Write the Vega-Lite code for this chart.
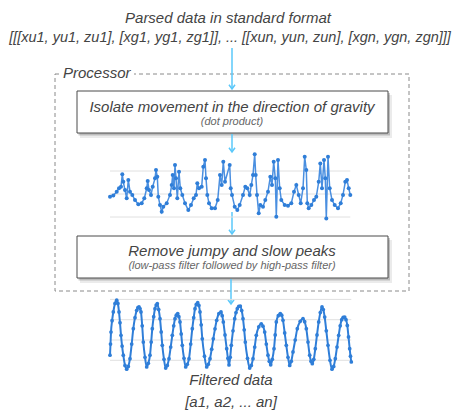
{
  "$schema": "https://vega.github.io/schema/vega-lite/v6.json",
  "width": 455,
  "height": 411,
  "padding": 0,
  "autosize": {"type": "none"},
  "background": "#ffffff",
  "config": {"view": {"stroke": null}},
  "datasets": {
    "titles": [
      {"x": 228, "y": 18, "t": "Parsed data in standard format"},
      {"x": 232, "y": 107, "t": "Isolate movement in the direction of gravity"},
      {"x": 232, "y": 251, "t": "Remove jumpy and slow peaks"},
      {"x": 231, "y": 380, "t": "Filtered data"},
      {"x": 231, "y": 402, "t": "[a1, a2, ... an]"}
    ],
    "formatline": [
      {"x": 230, "y": 38, "t": "[[[xu1, yu1, zu1], [xg1, yg1, zg1]], ... [[xun, yun, zun], [xgn, ygn, zgn]]]"}
    ],
    "subs": [
      {"x": 232, "y": 122, "t": "(dot product)"},
      {"x": 232, "y": 266, "t": "(low-pass filter followed by high-pass filter)"}
    ],
    "boxes": [
      {"x": 77, "x2": 388, "y": 91, "y2": 133},
      {"x": 77, "x2": 388, "y": 236, "y2": 278}
    ],
    "frame": [{"x": 55, "x2": 409, "y": 74, "y2": 291}],
    "arrows": [
      {"x": 232, "y": 48, "y2": 89},
      {"x": 232, "y": 134, "y2": 152},
      {"x": 232, "y": 212, "y2": 234},
      {"x": 231, "y": 279, "y2": 304}
    ],
    "raw": [
      {"t": 0, "v": -0.12}, {"t": 3.3, "v": -0.07}, {"t": 6.7, "v": 0.10}, {"t": 9, "v": 0.25}, {"t": 11, "v": 0.32},
      {"t": 12.3, "v": 0.86}, {"t": 13.3, "v": 0.53}, {"t": 15, "v": 0.17}, {"t": 16.7, "v": -0.19}, {"t": 18.3, "v": 0.61},
      {"t": 20, "v": 0.10}, {"t": 22.3, "v": -0.04}, {"t": 25, "v": -0.26}, {"t": 28.3, "v": -0.45}, {"t": 31.7, "v": -0.40},
      {"t": 34.3, "v": -0.19}, {"t": 36.7, "v": 0.25}, {"t": 37.7, "v": 0.57}, {"t": 39, "v": 0.17}, {"t": 41, "v": -0.04},
      {"t": 42.7, "v": 0.32}, {"t": 45, "v": 0.68}, {"t": 46, "v": 1.04}, {"t": 47.3, "v": 0.75}, {"t": 48.3, "v": -0.12},
      {"t": 50, "v": -0.48}, {"t": 51.7, "v": -0.77}, {"t": 53.3, "v": -0.55}, {"t": 56.7, "v": -0.40}, {"t": 60, "v": -0.04},
      {"t": 61.7, "v": 0.39}, {"t": 62.7, "v": 0.83}, {"t": 64, "v": 0.25}, {"t": 65, "v": 1.26}, {"t": 66, "v": 0.68},
      {"t": 67.3, "v": -0.19}, {"t": 69, "v": 0.97}, {"t": 70.3, "v": 0.25}, {"t": 72.3, "v": -0.04}, {"t": 75, "v": -0.40},
      {"t": 78.3, "v": -0.70}, {"t": 81, "v": -0.48}, {"t": 83.7, "v": -0.19}, {"t": 86, "v": -0.04}, {"t": 87.3, "v": 0.47},
      {"t": 89, "v": 0.25}, {"t": 91.7, "v": 0.32}, {"t": 93.3, "v": 1.19}, {"t": 95, "v": 1.48}, {"t": 96, "v": 0.68},
      {"t": 97.3, "v": -0.04}, {"t": 99, "v": -0.40}, {"t": 101.7, "v": -0.62}, {"t": 105, "v": -0.62}, {"t": 107.7, "v": -0.26},
      {"t": 110, "v": 0.83}, {"t": 111.7, "v": 0.39}, {"t": 113.3, "v": 1.40}, {"t": 115, "v": 0.53}, {"t": 119.7, "v": 1.26},
      {"t": 120.7, "v": 0.25}, {"t": 122, "v": -0.04}, {"t": 124.7, "v": -0.55}, {"t": 127.3, "v": -0.70}, {"t": 129.7, "v": -0.48},
      {"t": 133, "v": -0.04}, {"t": 135.3, "v": 0.32}, {"t": 137.3, "v": 0.25}, {"t": 139.7, "v": -0.04}, {"t": 141.3, "v": 0.39},
      {"t": 143, "v": 0.83}, {"t": 144.7, "v": 1.73}, {"t": 145.7, "v": 0.83}, {"t": 147, "v": -0.04}, {"t": 148.7, "v": -0.84},
      {"t": 150.3, "v": -0.48}, {"t": 153, "v": -0.55}, {"t": 155.3, "v": -0.26}, {"t": 158, "v": 0.10}, {"t": 160.3, "v": 0.75},
      {"t": 162, "v": 0.39}, {"t": 163.7, "v": 1.40}, {"t": 165.3, "v": 0.68}, {"t": 166.3, "v": -0.99}, {"t": 168, "v": 1.48},
      {"t": 169.7, "v": 0.25}, {"t": 171.3, "v": -0.26}, {"t": 174.7, "v": -0.48}, {"t": 178, "v": -0.51}, {"t": 181.3, "v": -0.40},
      {"t": 184, "v": 0.10}, {"t": 186.3, "v": 0.39}, {"t": 188.7, "v": -0.04}, {"t": 190.7, "v": -0.40}, {"t": 193, "v": 0.25},
      {"t": 194.7, "v": 1.62}, {"t": 196.3, "v": 1.04}, {"t": 197.3, "v": -0.40}, {"t": 198.7, "v": -0.62}, {"t": 201.3, "v": -0.48},
      {"t": 204, "v": -0.26}, {"t": 206.3, "v": -0.12}, {"t": 208.7, "v": 0.53}, {"t": 210.3, "v": 1.33}, {"t": 212, "v": 0.25},
      {"t": 214, "v": 1.48}, {"t": 215.3, "v": 0.68}, {"t": 216.3, "v": -1.06}, {"t": 218, "v": 1.62}, {"t": 219.7, "v": 0.25},
      {"t": 222, "v": -0.26}, {"t": 224.7, "v": -0.48}, {"t": 228, "v": -0.62}, {"t": 230.7, "v": -0.40}, {"t": 233, "v": -0.04},
      {"t": 235.3, "v": 0.53}, {"t": 237, "v": 0.61}, {"t": 238.7, "v": 0.25}, {"t": 240.3, "v": -0.04}
    ],
    "filtered": [
      {"t": 0, "v": -0.75}, {"t": 0.5, "v": -0.2}, {"t": 1, "v": 0.39}, {"t": 2.1, "v": 0.95}, {"t": 3.3, "v": 1.38},
      {"t": 5, "v": 1.8}, {"t": 6.7, "v": 1.96}, {"t": 7.9, "v": 1.8}, {"t": 9, "v": 1.38}, {"t": 10, "v": 0.85},
      {"t": 11, "v": 0.23}, {"t": 12.1, "v": -0.3}, {"t": 13.3, "v": -0.75}, {"t": 15, "v": -1.25}, {"t": 16.7, "v": -1.44},
      {"t": 18.3, "v": -1.3}, {"t": 20, "v": -0.92}, {"t": 21.7, "v": -0.2}, {"t": 23.3, "v": 0.56}, {"t": 25, "v": 1.1},
      {"t": 26.7, "v": 1.46}, {"t": 27.9, "v": 1.6}, {"t": 29, "v": 1.63}, {"t": 30, "v": 1.55}, {"t": 31, "v": 1.38},
      {"t": 32.2, "v": 0.7}, {"t": 33.3, "v": -0.10}, {"t": 35, "v": -0.85}, {"t": 36.7, "v": -1.33}, {"t": 38.3, "v": -1.15},
      {"t": 40, "v": -0.75}, {"t": 41.2, "v": -0.1}, {"t": 42.3, "v": 0.56}, {"t": 43.7, "v": 1.15}, {"t": 45, "v": 1.54},
      {"t": 46.2, "v": 1.72}, {"t": 47.3, "v": 1.79}, {"t": 48.7, "v": 1.5}, {"t": 50, "v": 1.05}, {"t": 51.2, "v": 0.4},
      {"t": 52.3, "v": -0.26}, {"t": 54, "v": -0.95}, {"t": 55.7, "v": -1.38}, {"t": 57.3, "v": -1.25}, {"t": 59, "v": -0.92},
      {"t": 60.7, "v": -0.35}, {"t": 62.3, "v": 0.23}, {"t": 63.7, "v": 0.7}, {"t": 65, "v": 1.05}, {"t": 66.3, "v": 1.22},
      {"t": 67.7, "v": 1.30}, {"t": 68.9, "v": 1.15}, {"t": 70, "v": 0.89}, {"t": 71.2, "v": 0.3}, {"t": 72.3, "v": -0.26},
      {"t": 74, "v": -0.9}, {"t": 75.7, "v": -1.33}, {"t": 77.3, "v": -1.2}, {"t": 79, "v": -0.92}, {"t": 80.7, "v": -0.2},
      {"t": 82.3, "v": 0.56}, {"t": 83.7, "v": 1.1}, {"t": 85, "v": 1.54}, {"t": 86.3, "v": 1.75}, {"t": 87.7, "v": 1.84},
      {"t": 88.9, "v": 1.7}, {"t": 90, "v": 1.38}, {"t": 91.2, "v": 0.75}, {"t": 92.3, "v": 0.06}, {"t": 94.5, "v": -0.8},
      {"t": 96.7, "v": -1.33}, {"t": 98.3, "v": -1.2}, {"t": 100, "v": -0.92}, {"t": 101.7, "v": -0.45}, {"t": 103.3, "v": 0.06},
      {"t": 105, "v": 0.55}, {"t": 106.7, "v": 0.97}, {"t": 108.9, "v": 1.3}, {"t": 111, "v": 1.38}, {"t": 112.2, "v": 1.2},
      {"t": 113.3, "v": 0.89}, {"t": 115, "v": 0.25}, {"t": 116.7, "v": -0.43}, {"t": 117.9, "v": -0.9}, {"t": 119, "v": -1.23},
      {"t": 120.2, "v": -0.85}, {"t": 121.3, "v": -0.26}, {"t": 123, "v": 0.45}, {"t": 124.7, "v": 1.05}, {"t": 126, "v": 1.35},
      {"t": 127.3, "v": 1.54}, {"t": 128.8, "v": 1.66}, {"t": 130.3, "v": 1.67}, {"t": 131.7, "v": 1.45}, {"t": 133, "v": 1.05},
      {"t": 134.2, "v": 0.5}, {"t": 135.3, "v": -0.10}, {"t": 137.5, "v": -0.9}, {"t": 139.7, "v": -1.38}, {"t": 141.3, "v": -1.25},
      {"t": 143, "v": -0.92}, {"t": 144.7, "v": -0.35}, {"t": 146.3, "v": 0.23}, {"t": 148.8, "v": 0.65}, {"t": 151.3, "v": 0.80},
      {"t": 153, "v": 0.68}, {"t": 154.7, "v": 0.39}, {"t": 156.3, "v": -0.2}, {"t": 158, "v": -0.75}, {"t": 159.3, "v": -1.05},
      {"t": 160.7, "v": -1.22}, {"t": 162.3, "v": -0.95}, {"t": 164, "v": -0.43}, {"t": 165.2, "v": 0.25}, {"t": 166.3, "v": 0.89},
      {"t": 168.3, "v": 1.2}, {"t": 170.3, "v": 1.30}, {"t": 171.7, "v": 1.22}, {"t": 173, "v": 0.97}, {"t": 174.7, "v": 0.35},
      {"t": 176.3, "v": -0.26}, {"t": 178, "v": -0.85}, {"t": 179.7, "v": -1.25}, {"t": 181.3, "v": -1.05}, {"t": 183, "v": -0.59},
      {"t": 185.2, "v": 0.0}, {"t": 187.3, "v": 0.56}, {"t": 190.2, "v": 0.92}, {"t": 193, "v": 1.05}, {"t": 194.7, "v": 0.9},
      {"t": 196.3, "v": 0.56}, {"t": 198, "v": -0.1}, {"t": 199.7, "v": -0.75}, {"t": 201, "v": -1.05}, {"t": 202.3, "v": -1.17},
      {"t": 203.8, "v": -0.95}, {"t": 205.3, "v": -0.43}, {"t": 207, "v": 0.25}, {"t": 208.7, "v": 0.89}, {"t": 210.3, "v": 1.35},
      {"t": 212, "v": 1.63}, {"t": 213.3, "v": 1.5}, {"t": 214.7, "v": 1.13}, {"t": 216.3, "v": 0.45}, {"t": 218, "v": -0.26},
      {"t": 220, "v": -1.0}, {"t": 222, "v": -1.44}, {"t": 223.7, "v": -1.3}, {"t": 225.3, "v": -0.92}, {"t": 227, "v": -0.35},
      {"t": 228.7, "v": 0.23}, {"t": 230.2, "v": 0.7}, {"t": 231.7, "v": 1.0}, {"t": 233.2, "v": 1.12}, {"t": 234.7, "v": 1.13},
      {"t": 236, "v": 1.0}, {"t": 237.3, "v": 0.72}, {"t": 238.5, "v": 0.15}, {"t": 239.7, "v": -0.43}, {"t": 240.5, "v": -0.8},
      {"t": 241.3, "v": -1.08}
    ]
  },
  "layer": [
    {
      "layer": [
        {
          "data": {"name": "frame"},
          "mark": {"type": "rect", "fill": null, "stroke": "#8a8a8a", "strokeWidth": 1, "strokeDash": [4, 3]},
          "encoding": {
            "x": {"field": "x", "type": "quantitative", "scale": {"domain": [0, 455], "nice": false, "zero": false}, "axis": null},
            "x2": {"field": "x2"},
            "y": {"field": "y", "type": "quantitative", "scale": {"domain": [0, 411], "reverse": true, "nice": false, "zero": false}, "axis": null},
            "y2": {"field": "y2"}
          }
        },
        {
          "data": {"values": [{"x": 61, "y": 73, "t": "Processor"}]},
          "layer": [
            {
              "mark": {"type": "rect", "fill": "#ffffff", "width": 74, "height": 16, "xOffset": 36},
              "encoding": {
                "x": {"field": "x", "type": "quantitative"},
                "y": {"field": "y", "type": "quantitative"}
              }
            },
            {
              "mark": {"type": "text", "align": "left", "baseline": "middle", "font": "Liberation Sans", "fontStyle": "italic", "fontSize": 15, "color": "#444444", "dx": 2},
              "encoding": {
                "x": {"field": "x", "type": "quantitative"},
                "y": {"field": "y", "type": "quantitative"},
                "text": {"field": "t"}
              }
            }
          ]
        },
        {
          "data": {"name": "boxes"},
          "mark": {"type": "rect", "fill": "#000000", "opacity": 0.08, "xOffset": 3, "x2Offset": 4, "yOffset": 4, "y2Offset": 5},
          "encoding": {
            "x": {"field": "x", "type": "quantitative"}, "x2": {"field": "x2"},
            "y": {"field": "y", "type": "quantitative"}, "y2": {"field": "y2"}
          }
        },
        {
          "data": {"name": "boxes"},
          "mark": {"type": "rect", "fill": "#000000", "opacity": 0.2, "xOffset": 1.5, "x2Offset": 2, "yOffset": 2, "y2Offset": 2.5},
          "encoding": {
            "x": {"field": "x", "type": "quantitative"}, "x2": {"field": "x2"},
            "y": {"field": "y", "type": "quantitative"}, "y2": {"field": "y2"}
          }
        },
        {
          "data": {"name": "boxes"},
          "mark": {"type": "rect", "fill": "#ffffff", "stroke": "#4a4a4a", "strokeWidth": 1},
          "encoding": {
            "x": {"field": "x", "type": "quantitative"}, "x2": {"field": "x2"},
            "y": {"field": "y", "type": "quantitative"}, "y2": {"field": "y2"}
          }
        },
        {
          "data": {"name": "arrows"},
          "mark": {"type": "rule", "color": "#5ac8fa", "strokeWidth": 1.5},
          "encoding": {
            "x": {"field": "x", "type": "quantitative"},
            "y": {"field": "y", "type": "quantitative"}, "y2": {"field": "y2"}
          }
        },
        {
          "data": {"name": "arrows"},
          "mark": {"type": "point", "shape": "M-1,-1.4L0,0L1,-1.4", "filled": false, "stroke": "#5ac8fa", "strokeWidth": 1.5, "size": 36, "opacity": 1},
          "encoding": {
            "x": {"field": "x", "type": "quantitative"},
            "y": {"field": "y2", "type": "quantitative"}
          }
        },
        {
          "data": {"name": "titles"},
          "mark": {"type": "text", "align": "center", "baseline": "middle", "font": "Liberation Sans", "fontStyle": "italic", "fontSize": 15, "color": "#444444"},
          "encoding": {
            "x": {"field": "x", "type": "quantitative"},
            "y": {"field": "y", "type": "quantitative"},
            "text": {"field": "t"}
          }
        },
        {
          "data": {"name": "formatline"},
          "mark": {"type": "text", "align": "center", "baseline": "middle", "font": "Liberation Sans", "fontStyle": "italic", "fontSize": 14.5, "color": "#444444"},
          "encoding": {
            "x": {"field": "x", "type": "quantitative"},
            "y": {"field": "y", "type": "quantitative"},
            "text": {"field": "t"}
          }
        },
        {
          "data": {"name": "subs"},
          "mark": {"type": "text", "align": "center", "baseline": "middle", "font": "Liberation Sans", "fontStyle": "italic", "fontSize": 11, "color": "#666666"},
          "encoding": {
            "x": {"field": "x", "type": "quantitative"},
            "y": {"field": "y", "type": "quantitative"},
            "text": {"field": "t"}
          }
        }
      ]
    },
    {
      "layer": [
        {
          "data": {"values": [{"g": -1}, {"g": 0}, {"g": 1}]},
          "mark": {"type": "rule", "color": "#e0e0e0", "strokeWidth": 1},
          "encoding": {
            "x": {"datum": 0, "type": "quantitative", "scale": {"domain": [0, 240.3], "range": [110, 350.3], "nice": false, "zero": false}, "axis": null},
            "x2": {"datum": 240.3},
            "y": {"field": "g", "type": "quantitative", "scale": {"domain": [-1, 1], "range": [217, 171], "nice": false, "zero": false}, "axis": null}
          }
        },
        {
          "data": {"name": "raw"},
          "mark": {"type": "line", "color": "#4a8fe0", "strokeWidth": 1.5, "clip": false},
          "encoding": {
            "x": {"field": "t", "type": "quantitative"},
            "y": {"field": "v", "type": "quantitative"}
          }
        },
        {
          "data": {"name": "raw"},
          "mark": {"type": "circle", "color": "#2f7ed8", "size": 16, "opacity": 1, "clip": false},
          "encoding": {
            "x": {"field": "t", "type": "quantitative"},
            "y": {"field": "v", "type": "quantitative"}
          }
        }
      ]
    },
    {
      "layer": [
        {
          "data": {"values": [{"g": -1}, {"g": 0}, {"g": 1}, {"g": 2}]},
          "mark": {"type": "rule", "color": "#e0e0e0", "strokeWidth": 1},
          "encoding": {
            "x": {"datum": 0, "type": "quantitative", "scale": {"domain": [0, 241.3], "range": [110, 351.3], "nice": false, "zero": false}, "axis": null},
            "x2": {"datum": 241.3},
            "y": {"field": "g", "type": "quantitative", "scale": {"domain": [-1, 2], "range": [360.3, 299.4], "nice": false, "zero": false}, "axis": null}
          }
        },
        {
          "data": {"name": "filtered"},
          "mark": {"type": "line", "color": "#2f7ed8", "strokeWidth": 2, "interpolate": "monotone", "clip": false},
          "encoding": {
            "x": {"field": "t", "type": "quantitative"},
            "y": {"field": "v", "type": "quantitative"}
          }
        },
        {
          "data": {"name": "filtered"},
          "mark": {"type": "circle", "color": "#2f7ed8", "size": 14, "opacity": 1, "clip": false},
          "encoding": {
            "x": {"field": "t", "type": "quantitative"},
            "y": {"field": "v", "type": "quantitative"}
          }
        }
      ]
    }
  ],
  "resolve": {"scale": {"x": "independent", "y": "independent"}}
}
